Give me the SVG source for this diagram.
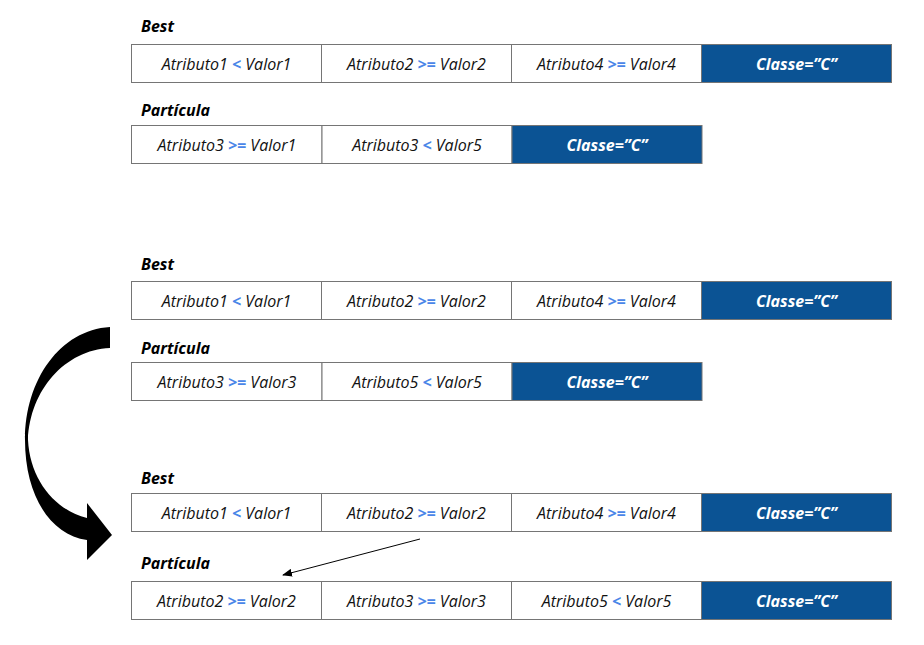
<svg xmlns="http://www.w3.org/2000/svg" width="924" height="645" viewBox="0 0 924 645">
<style>
.bg{fill:#ffffff}
.c{fill:#ffffff;stroke:#757575;stroke-width:1}
.k{fill:#0b5394;stroke:#757575;stroke-width:1}
.t{font-family:"Open Sans","Liberation Sans",sans-serif;font-style:italic;font-size:16px;fill:#111111;text-anchor:middle}
.op{fill:#4a86e8;font-weight:bold}
.w{font-family:"Open Sans","Liberation Sans",sans-serif;font-style:italic;font-weight:bold;font-size:16px;fill:#ffffff;text-anchor:middle}
.h{font-family:"Open Sans","Liberation Sans",sans-serif;font-style:italic;font-weight:bold;font-size:16px;fill:#000000}
</style>
<defs>
<marker id="ah" markerWidth="10" markerHeight="8" refX="9" refY="4" orient="auto" markerUnits="userSpaceOnUse">
<path d="M0,0 L10,4 L0,8 z" fill="#000"/>
</marker>
</defs>
<rect class="bg" x="0" y="0" width="924" height="645"/>

<g id="s1-best">
<text class="h" x="141" y="32">Best</text>
<rect class="c" x="131.5" y="44.5" width="190" height="38"/>
<rect class="c" x="321.5" y="44.5" width="190" height="38"/>
<rect class="c" x="511.5" y="44.5" width="190" height="38"/>
<rect class="k" x="701.5" y="44.5" width="190" height="38"/>
<text class="t" x="226.5" y="70">Atributo1 <tspan class="op">&lt;</tspan> Valor1</text>
<text class="t" x="416.5" y="70">Atributo2 <tspan class="op">&gt;=</tspan> Valor2</text>
<text class="t" x="606.5" y="70">Atributo4 <tspan class="op">&gt;=</tspan> Valor4</text>
<text class="w" x="796.5" y="70">Classe=”C”</text>
</g>

<g id="s1-particula">
<text class="h" x="141" y="116">Partícula</text>
<rect class="c" x="131.5" y="125.5" width="190.5" height="38"/>
<rect class="c" x="322" y="125.5" width="190" height="38"/>
<rect class="k" x="512" y="125.5" width="190" height="38"/>
<text class="t" x="227" y="151">Atributo3 <tspan class="op">&gt;=</tspan> Valor1</text>
<text class="t" x="417" y="151">Atributo3 <tspan class="op">&lt;</tspan> Valor5</text>
<text class="w" x="607" y="151">Classe=”C”</text>
</g>

<g id="s2-best">
<text class="h" x="141" y="270">Best</text>
<rect class="c" x="131.5" y="281.5" width="190" height="38"/>
<rect class="c" x="321.5" y="281.5" width="190" height="38"/>
<rect class="c" x="511.5" y="281.5" width="190" height="38"/>
<rect class="k" x="701.5" y="281.5" width="190" height="38"/>
<text class="t" x="226.5" y="307">Atributo1 <tspan class="op">&lt;</tspan> Valor1</text>
<text class="t" x="416.5" y="307">Atributo2 <tspan class="op">&gt;=</tspan> Valor2</text>
<text class="t" x="606.5" y="307">Atributo4 <tspan class="op">&gt;=</tspan> Valor4</text>
<text class="w" x="796.5" y="307">Classe=”C”</text>
</g>

<g id="s2-particula">
<text class="h" x="141" y="354">Partícula</text>
<rect class="c" x="131.5" y="362.5" width="190.5" height="38"/>
<rect class="c" x="322" y="362.5" width="190" height="38"/>
<rect class="k" x="512" y="362.5" width="190" height="38"/>
<text class="t" x="227" y="388">Atributo3 <tspan class="op">&gt;=</tspan> Valor3</text>
<text class="t" x="417" y="388">Atributo5 <tspan class="op">&lt;</tspan> Valor5</text>
<text class="w" x="607" y="388">Classe=”C”</text>
</g>

<g id="s3-best">
<text class="h" x="141" y="484">Best</text>
<rect class="c" x="131.5" y="493.5" width="190" height="38"/>
<rect class="c" x="321.5" y="493.5" width="190" height="38"/>
<rect class="c" x="511.5" y="493.5" width="190" height="38"/>
<rect class="k" x="701.5" y="493.5" width="190" height="38"/>
<text class="t" x="226.5" y="519">Atributo1 <tspan class="op">&lt;</tspan> Valor1</text>
<text class="t" x="416.5" y="519">Atributo2 <tspan class="op">&gt;=</tspan> Valor2</text>
<text class="t" x="606.5" y="519">Atributo4 <tspan class="op">&gt;=</tspan> Valor4</text>
<text class="w" x="796.5" y="519">Classe=”C”</text>
</g>

<g id="s3-particula">
<text class="h" x="141" y="569">Partícula</text>
<rect class="c" x="131.5" y="581.5" width="190" height="38"/>
<rect class="c" x="321.5" y="581.5" width="190" height="38"/>
<rect class="c" x="511.5" y="581.5" width="190" height="38"/>
<rect class="k" x="701.5" y="581.5" width="190" height="38"/>
<text class="t" x="226.5" y="607">Atributo2 <tspan class="op">&gt;=</tspan> Valor2</text>
<text class="t" x="416.5" y="607">Atributo3 <tspan class="op">&gt;=</tspan> Valor3</text>
<text class="t" x="606.5" y="607">Atributo5 <tspan class="op">&lt;</tspan> Valor5</text>
<text class="w" x="796.5" y="607">Classe=”C”</text>
</g>

<g id="connectors">
<path d="M110,327 L110,348 C65,350 30,390 28,440 C30,480 55,510 87,518 L87,503 L112,535 L87,560 L87,540 C50,535 25,495 25,440 C25,380 60,330 110,327 Z" fill="#000000"/>
<line x1="420" y1="539" x2="283" y2="575" stroke="#000" stroke-width="1" marker-end="url(#ah)"/>
</g>
</svg>
